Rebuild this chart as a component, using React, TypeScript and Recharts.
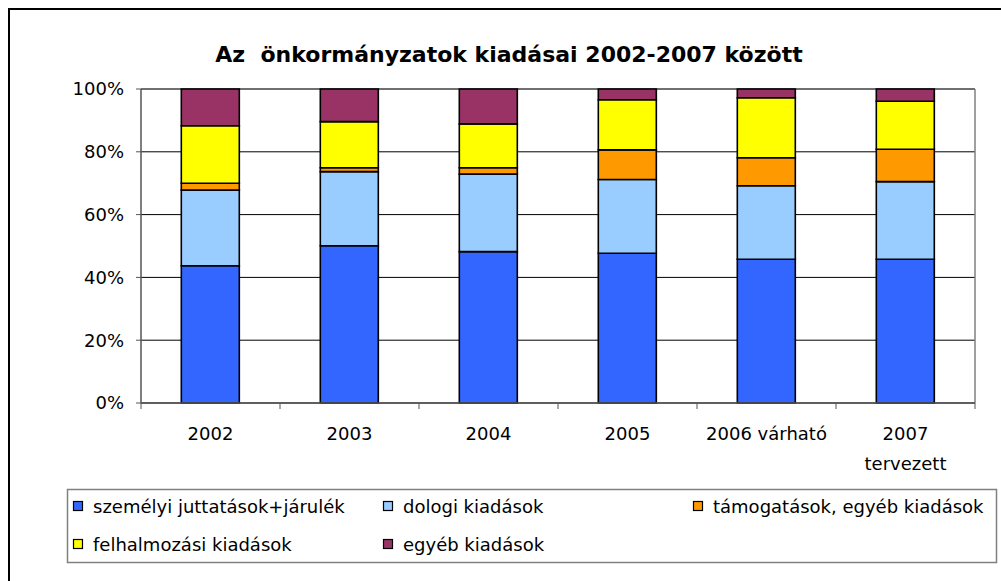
import React from "react"
import { BarChart, Bar, XAxis, YAxis, CartesianGrid } from "recharts"

const categories = ["2002", "2003", "2004", "2005", "2006 várható", "2007\ntervezett"]

// shares in percent
const szemelyi = [43.7, 50.1, 48.2, 47.7, 45.8, 45.8]
const dologi = [24.1, 23.6, 24.7, 23.5, 23.4, 24.7]
const tamogatasok = [2.2, 1.2, 2.0, 9.4, 8.9, 10.3]
const felhalmozasi = [18.3, 14.7, 14.0, 16.0, 19.1, 15.3]
const egyeb = [11.7, 10.4, 11.1, 3.4, 2.8, 3.9]

const yTicks = [0, 20, 40, 60, 80, 100]

const series = [
  { key: "szemelyi", name: "személyi juttatások+járulék", color: "#3366FF", values: szemelyi },
  { key: "dologi", name: "dologi kiadások", color: "#99CCFF", values: dologi },
  { key: "tamogatasok", name: "támogatások, egyéb kiadások", color: "#FF9900", values: tamogatasok },
  { key: "felhalmozasi", name: "felhalmozási kiadások", color: "#FFFF00", values: felhalmozasi },
  { key: "egyeb", name: "egyéb kiadások", color: "#993366", values: egyeb },
]

const data = categories.map((year, i) => {
  const row: Record<string, string | number> = { year }
  series.forEach((s) => (row[s.key] = s.values[i]))
  return row
})

const edgeTicks = categories.map((_, i) => i).concat(categories.length)

const FONT = "DejaVu Sans"

// legend layout: order as in the reference (3 columns, 2 rows)
const legendCols = [73, 383, 693]
const legendRows = [501, 539]

function XTick({ x, y, payload }: any) {
  const lines = String(payload.value).split("\n")
  const half = Number(payload.offset)
  const last = payload.index === categories.length - 1
  return (
    <g>
      {half > 0 && <line x1={x - half} x2={x - half} y1={y} y2={y + 6} stroke="#555" />}
      {half > 0 && last && <line x1={x + half} x2={x + half} y1={y} y2={y + 6} stroke="#555" />}
      <text x={x} y={y} textAnchor="middle" fontFamily={FONT} fontSize={18} fill="#000">
        {lines.map((l, i) => (
          <tspan key={i} x={x} dy={i === 0 ? 37 : 30}>
            {l}
          </tspan>
        ))}
      </text>
    </g>
  )
}

export default function App() {
  return (
    <div style={{ position: "absolute", left: 0, top: 0, width: 1001, height: 581, overflow: "hidden", background: "#fff" }}>
      <div style={{ position: "absolute", left: 8, top: 8, width: 1200, height: 800, border: "2px solid #000" }} />
      <div style={{ position: "absolute", left: 0, top: 0 }}>
        <BarChart width={1001} height={581} data={data} margin={{ top: 89, right: 26, bottom: 108, left: 71 }} barCategoryGap="29%">
          <CartesianGrid vertical={false} stroke="#000" strokeWidth={1} />
          <CartesianGrid
            stroke="#808080"
            strokeWidth={1.5}
            horizontalCoordinatesGenerator={({ offset }: any) => [offset.top]}
            verticalCoordinatesGenerator={({ offset }: any) => [offset.left + offset.width]}
          />
          <XAxis
            xAxisId="edges"
            type="number"
            domain={[0, categories.length]}
            ticks={edgeTicks}
            tickFormatter={() => ""}
            tickSize={6}
            axisLine={false}
            tickLine={{ stroke: "#555" }}
            height={0}
          />
          <XAxis
            dataKey="year"
            tick={<XTick />}
            tickLine={false}
            tickSize={0}
            tickMargin={0}
            axisLine={{ stroke: "#555", strokeWidth: 1.5 }}
            height={70}
            interval={0}
          />
          <YAxis
            domain={[0, 100]}
            ticks={yTicks}
            tickFormatter={(v) => `${v}%`}
            width={70}
            tickSize={5}
            tickMargin={12}
            axisLine={{ stroke: "#555", strokeWidth: 1.5 }}
            tickLine={{ stroke: "#555" }}
            tick={{ fill: "#000", fontSize: 18, fontFamily: FONT }}
          />
          {series.map((s) => (
            <Bar key={s.key} dataKey={s.key} name={s.name} stackId="a" fill={s.color} stroke="#000" strokeWidth={1.6} isAnimationActive={false} />
          ))}
        </BarChart>
      </div>
      <svg width={1001} height={581} style={{ position: "absolute", left: 0, top: 0, pointerEvents: "none" }}>
        <text x={509} y={62} textAnchor="middle" fontFamily={FONT} fontWeight="bold" fontSize={22} fill="#000" style={{ whiteSpace: "pre" }}>
          {"Az  önkormányzatok kiadásai 2002-2007 között"}
        </text>
        <rect x={67.5} y={489.5} width={929} height={73} fill="#fff" stroke="#808080" strokeWidth={1.5} />
        {series.map((s, i) => {
          const cx = legendCols[i % 3]
          const cy = legendRows[Math.floor(i / 3)]
          return (
            <g key={s.key}>
              <rect x={cx + 0.5} y={cy + 0.5} width={9} height={9} fill={s.color} stroke="#000" strokeWidth={1.2} />
              <text x={cx + 20} y={cy + 12} fontFamily={FONT} fontSize={18} fill="#000">
                {s.name}
              </text>
            </g>
          )
        })}
      </svg>
    </div>
  )
}
